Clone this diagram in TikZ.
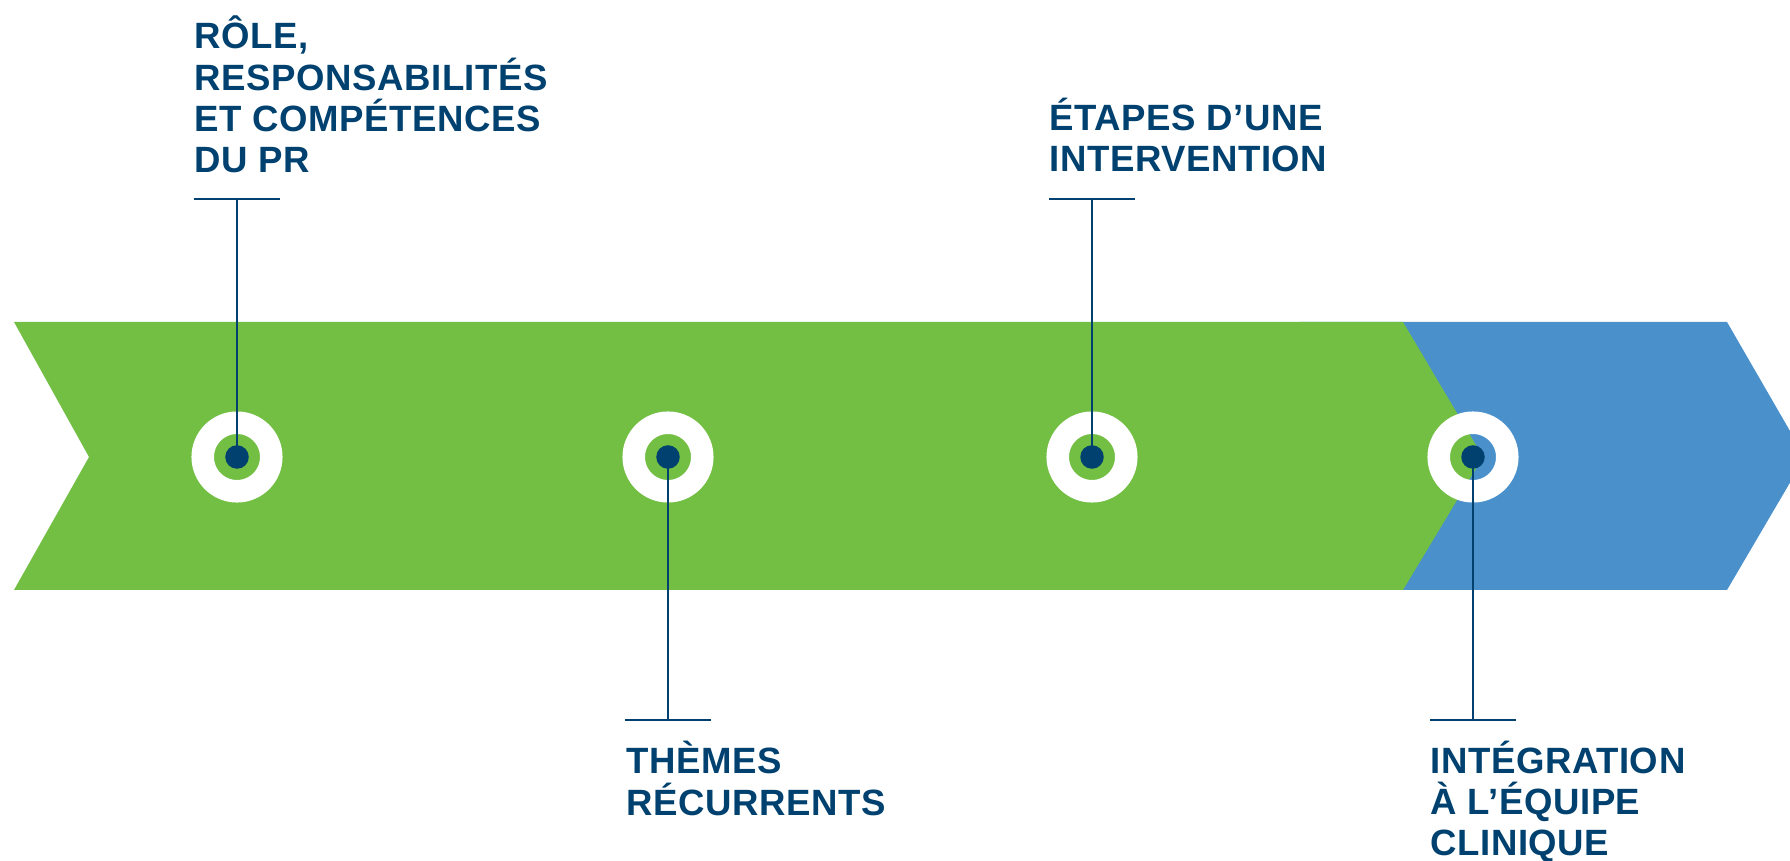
\documentclass[tikz,border=0pt]{standalone}
\usepackage{fontspec}
\setmainfont{Liberation Sans}
\usepackage{tikz}
\usetikzlibrary{positioning}
\definecolor{bandgreen}{HTML}{72BF44}
\definecolor{bandblue}{HTML}{4A90CB}
\definecolor{navy}{HTML}{00416F}
\tikzset{
  ring/.style  ={circle,draw=white,line width=0.225cm,minimum size=0.685cm,inner sep=0pt},
  dot/.style   ={circle,fill=navy,minimum size=0.235cm,inner sep=0pt},
  stem/.style  ={draw=navy,line width=0.6pt},
  bar/.style   ={draw=navy,line width=0.5pt},
  topic/.style ={align=left,inner sep=0pt,text=navy,
                 font=\addfontfeatures{LetterSpace=1.5}\fontsize{10.4}{11.8}\selectfont\bfseries},
}

\begin{document}
\begin{tikzpicture}[x=0.01cm,y=-0.01cm]
\clip (0,0) rectangle (1790,861);
% bands: blue arrow behind, green chevron on top
\fill[bandblue] (1300,322) -- (1727,322) -- (1805,457) -- (1727,590) -- (1300,590) -- cycle;
\fill[bandgreen] (14,322) -- (1403,322) -- (1483,457) -- (1403,590) -- (14,590) -- (89,457) -- cycle;
% milestones
\node[ring] (R1) at (237,457) {};
\node[ring] (R2) at (668,457) {};
\node[ring] (R3) at (1092,457) {};
\node[ring] (R4) at (1473,457) {};
\coordinate (T1) at (237,199);
\coordinate (T2) at (668,720);
\coordinate (T3) at (1092,199);
\coordinate (T4) at (1473,720);
\draw[stem] (R1.center) -- (T1); \draw[stem] (R2.center) -- (T2);
\draw[stem] (R3.center) -- (T3); \draw[stem] (R4.center) -- (T4);
\draw[bar] ([xshift=-0.43cm]T1) -- ([xshift=0.43cm]T1);
\draw[bar] ([xshift=-0.43cm]T2) -- ([xshift=0.43cm]T2);
\draw[bar] ([xshift=-0.43cm]T3) -- ([xshift=0.43cm]T3);
\draw[bar] ([xshift=-0.43cm]T4) -- ([xshift=0.43cm]T4);
\node[dot] (D1) at (R1) {}; \node[dot] (D2) at (R2) {};
\node[dot] (D3) at (R3) {}; \node[dot] (D4) at (R4) {};
% captions
\node[topic,anchor=base west] (P1) at (194,173) {RÔLE,\\RESPONSABILITÉS\\ET COMPÉTENCES\\DU PR};
\node[topic,anchor=base west] (P3) at (1049,172) {ÉTAPES D’UNE\\INTERVENTION};
\node[topic,anchor=base west] (P2) at (626,815) {THÈMES\\RÉCURRENTS};
\node[topic,anchor=base west] (P4) at (1430,856) {INTÉGRATION\\À L’ÉQUIPE\\CLINIQUE};
\end{tikzpicture}
\end{document}
